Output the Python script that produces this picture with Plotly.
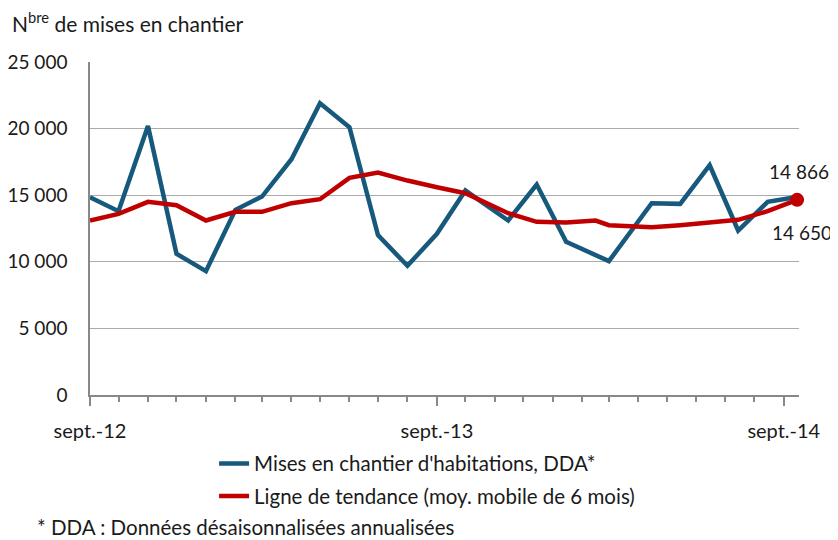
import plotly.graph_objects as go

dates = [
    "2012-09-01", "2012-10-01", "2012-11-01", "2012-12-01", "2013-01-01",
    "2013-02-01", "2013-03-01", "2013-04-01", "2013-05-01", "2013-06-01",
    "2013-07-01", "2013-08-01", "2013-09-01", "2013-10-01", "2013-11-15",
    "2013-12-15", "2014-01-15", "2014-02-15", "2014-03-01", "2014-04-15",
    "2014-05-15", "2014-06-15", "2014-07-15", "2014-08-15", "2014-09-15",
]

# Mises en chantier d'habitations, DDA
mises_en_chantier = [
    14850, 13800, 20200, 10600, 9300,
    13900, 14900, 17700, 21900, 20100,
    12000, 9700, 12100, 15350, 13100,
    15800, 11500, 10550, 10050, 14400,
    14350, 17250, 12350, 14500, 14866,
]

# Ligne de tendance (moyenne mobile de 6 mois)
tendance = [
    13100, 13600, 14500, 14250, 13100,
    13750, 13750, 14400, 14700, 16300,
    16700, 16100, 15600, 15150, 13650,
    13000, 12950, 13100, 12750, 12600,
    12750, 12950, 13150, 13800, 14650,
]

tick_dates = ["2012-09-01", "2013-09-01", "2014-09-01"]
tick_labels = ["sept.-12", "sept.-13", "sept.-14"]

BLUE = "#17597D"
RED = "#C00000"
FONT = "Lato"
TXT = "#1a1a1a"

fig = go.Figure()
fig.add_trace(go.Scatter(
    x=dates, y=mises_en_chantier, mode="lines",
    name="Mises en chantier d'habitations, DDA*",
    line=dict(color=BLUE, width=4.5), legendgroup="a",
))
fig.add_trace(go.Scatter(
    x=dates, y=tendance, mode="lines",
    name="Ligne de tendance (moy. mobile de 6 mois)",
    line=dict(color=RED, width=4.5), legendgroup="b",
))
fig.add_trace(go.Scatter(
    x=[dates[-1]], y=[tendance[-1]], mode="markers",
    marker=dict(color=RED, size=14), showlegend=False, cliponaxis=False,
))

fig.add_annotation(x=dates[-1], y=mises_en_chantier[-1], text="14 866",
                   showarrow=False, yshift=25, xshift=2,
                   font=dict(family=FONT, size=19, color=TXT))
fig.add_annotation(x=dates[-1], y=tendance[-1], text="14 650",
                   showarrow=False, yshift=-33, xshift=5,
                   font=dict(family=FONT, size=19, color=TXT))

fig.add_annotation(xref="paper", yref="paper", x=-0.113, y=1.12, xanchor="left",
                   yanchor="middle", showarrow=False, align="left",
                   text="N<sup>bre</sup> de mises en chantier",
                   font=dict(family=FONT, size=21, color=TXT))
fig.add_annotation(xref="paper", yref="paper", x=-0.078, y=-0.396, xanchor="left",
                   yanchor="middle", showarrow=False, align="left",
                   text="* DDA : Données désaisonnalisées annualisées",
                   font=dict(family=FONT, size=20.5, color=TXT))

fig.update_layout(
    width=830, height=532,
    margin=dict(l=82, r=39, t=54, b=145),
    paper_bgcolor="white", plot_bgcolor="white",
    separators=", ",
    font=dict(family=FONT, size=17, color=TXT),
    showlegend=True,
    legend=dict(orientation="v", x=0.175, y=-0.146, xanchor="left", yanchor="top",
                font=dict(family=FONT, size=20.5, color=TXT), tracegroupgap=3,
                itemwidth=30, bgcolor="rgba(0,0,0,0)"),
    xaxis=dict(
        type="date", range=["2012-09-01", "2014-09-17"], automargin=False,
        tickmode="array", tickvals=tick_dates, ticktext=tick_labels,
        ticks="outside", ticklen=9, tickcolor="#888", tickwidth=1.5,
        ticklabelstandoff=8,
        showline=True, linecolor="#888", linewidth=1.5,
        showgrid=False, zeroline=False,
        tickfont=dict(family=FONT, size=20, color=TXT),
        minor=dict(ticks="outside", ticklen=5, tickcolor="#888", tickwidth=1.5,
                   dtick="M1", tick0="2012-09-01", showgrid=False),
    ),
    yaxis=dict(
        range=[0, 25000], dtick=5000, tickformat=",d", automargin=False,
        showline=True, linecolor="#888", linewidth=1.5,
        showgrid=True, gridcolor="#ABABAB", gridwidth=1.3,
        zeroline=False, ticks="", ticklabelstandoff=17,
        tickfont=dict(family=FONT, size=19, color=TXT),
    ),
)

fig.write_html("out.html")
